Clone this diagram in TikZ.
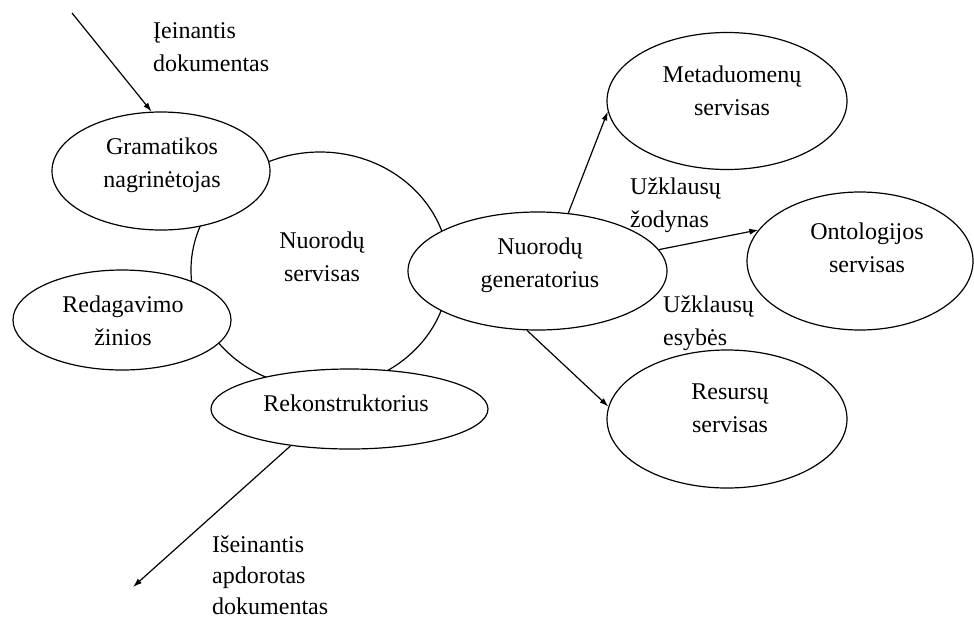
\documentclass[tikz,border=0pt]{standalone}
\usepackage{fontspec}
\setmainfont{Liberation Serif}
\usetikzlibrary{shapes.geometric,arrows.meta}
\begin{document}
\begin{tikzpicture}[x=1pt,y=-1pt,
  bubble/.style={draw, ellipse, inner sep=0pt, line width=1.2pt},
  txt/.style={font=\fontsize{24}{33}\selectfont, align=center, inner sep=0pt},
  note/.style={txt, align=left, anchor=west},
  flow/.style={line width=1.2pt, -{Latex[length=9pt,width=6pt]}}]
\useasboundingbox (0,0) rectangle (974,619);

% central service, partly hidden behind the surrounding components
\node[bubble, minimum width=258pt, minimum height=236pt] (serv) at (320,270) {};

% components around it
\node[bubble, fill=white, minimum width=218pt, minimum height=118pt] (gram) at (161,171) {};
\node[bubble, fill=white, minimum width=218pt, minimum height=100pt] (red) at (122,320) {};
\node[bubble, fill=white, minimum width=277pt, minimum height=80pt] (rek) at (349.5,409) {};
\node[bubble, fill=white, minimum width=259pt, minimum height=118pt] (gen) at (537.5,271) {};

% external services
\node[bubble, minimum width=240pt, minimum height=137pt] (meta) at (727,101) {};
\node[bubble, minimum width=226pt, minimum height=138pt] (onto) at (860,261) {};
\node[bubble, minimum width=240pt, minimum height=138pt] (res) at (727,419) {};

% texts inside the shapes
\node[txt] (servT) at (322,257) {Nuorodų\\servisas};
\node[txt] (gramT) at (162,165) {Gramatikos\\nagrinėtojas};
\node[txt] (redT) at (123,321) {Redagavimo\\žinios};
\node[txt] (rekT) at (346,403) {Rekonstruktorius};
\node[txt] (genT) at (540,265) {Nuorodų\\generatorius};
\node[txt] (metaT) at (732,91) {Metaduomenų\\servisas};
\node[txt] (ontoT) at (867,248) {Ontologijos\\servisas};
\node[txt] (resT) at (730,408) {Resursų\\servisas};

% document flow in and out
\coordinate (inStart) at (72,13);
\coordinate (outEnd) at (133,587);
\draw[flow] (inStart) -- (gram.99.6);
\draw[flow] (rek.212.6) -- (outEnd);

% queries from the generator
\draw[flow] (gen.62.7) -- (meta.185.3);
\draw[flow] (gen.10.2) -- (onto.163.2);
\draw[flow] (gen.260.9) -- (res.174.8);

% free labels
\node[note] (inL) at (153,47) {Įeinantis\\dokumentas};
\node[note] (q1) at (630,205) {Užklausų\\žodynas};
\node[note] (q2) at (663,323) {Užklausų\\esybės};
\node[note, font=\fontsize{24}{31}\selectfont] (outL) at (212,575) {Išeinantis\\apdorotas\\dokumentas};
\end{tikzpicture}
\end{document}
